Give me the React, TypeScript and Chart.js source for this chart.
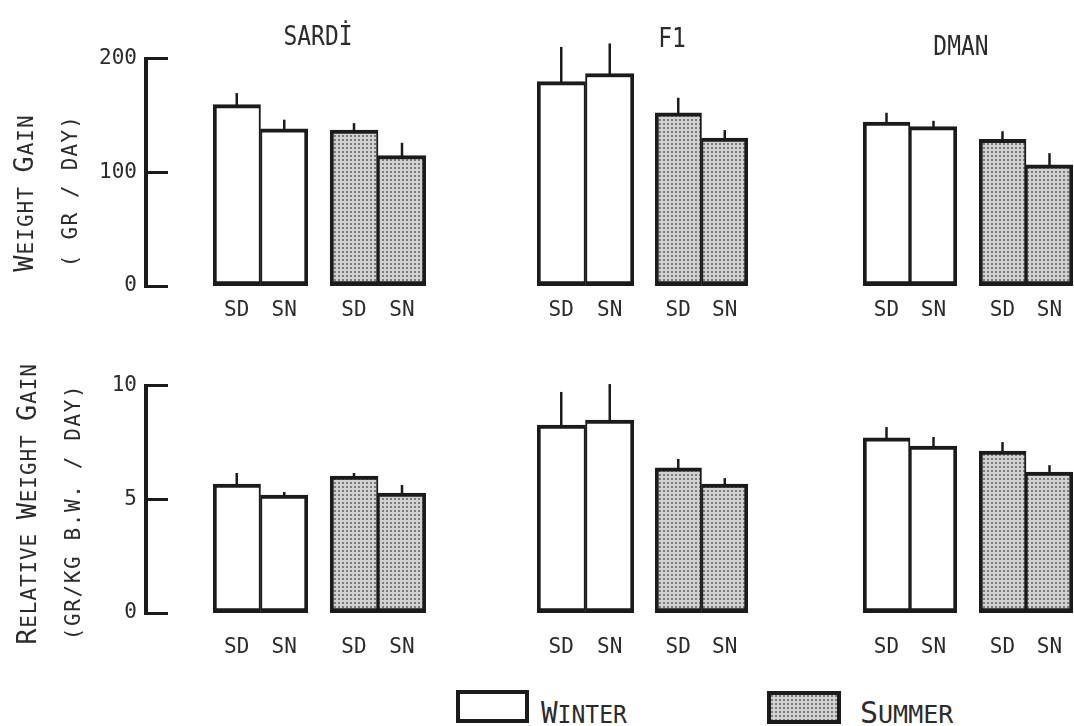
import React, { useEffect, useRef } from "react";
import { Chart, registerables } from "chart.js";

Chart.register(...registerables);

// ---------------- data ----------------
const breeds = ["SARDİ", "F1", "DMAN"];
const seasons = ["WINTER", "SUMMER"];
const groupLabels = ["SD", "SN"];

// order inside each array: Winter SD, Winter SN, Summer SD, Summer SN
const gainSardi = [157, 136, 135, 113];
const gainF1 = [177, 184, 150, 128];
const gainDman = [142, 138, 127, 105];
const gainSardiErr = [10, 8, 6, 11];
const gainF1Err = [30, 26, 13, 7];
const gainDmanErr = [8, 5, 7, 10];

const relSardi = [5.58, 5.1, 5.93, 5.19];
const relF1 = [8.14, 8.35, 6.28, 5.58];
const relDman = [7.58, 7.23, 7.01, 6.1];
const relSardiErr = [0.48, 0.14, 0.13, 0.35];
const relF1Err = [1.43, 1.56, 0.39, 0.26];
const relDmanErr = [0.47, 0.39, 0.39, 0.3];

const gainTicks = [0, 100, 200];
const relTicks = [0, 5, 10];

// ---------------- layout / style ----------------
const INK = "#1b1b1b";
const TEXT = "#2b2b2b";
const MONO = "'DejaVu Sans Mono', 'Liberation Mono', monospace";
const PAD_TOP = 40;
const XAXIS_H = 45;
const AXIS_X = 146;
const rowLayout = [
  { top: 55, bottom: 286, labelLine: 50 },
  { top: 382, bottom: 613, labelLine: 69 },
];
const pairSpans = [
  [[213, 308], [330, 426]],
  [[537, 634], [655, 748]],
  [[863, 957], [979, 1073]],
];
const titleLayout = [
  { cx: 318, top: 22 },
  { cx: 672, top: 24 },
  { cx: 961, top: 32 },
];

const rows = [
  {
    values: [gainSardi, gainF1, gainDman],
    errors: [gainSardiErr, gainF1Err, gainDmanErr],
    ticks: gainTicks,
  },
  {
    values: [relSardi, relF1, relDman],
    errors: [relSardiErr, relF1Err, relDmanErr],
    ticks: relTicks,
  },
];

function makeTile(): HTMLCanvasElement {
  const tile = document.createElement("canvas");
  tile.width = 4;
  tile.height = 4;
  const t = tile.getContext("2d")!;
  t.fillStyle = "#d2d2d2";
  t.fillRect(0, 0, 4, 4);
  t.fillStyle = "#7c7c7c";
  t.fillRect(0, 0, 2, 2);
  return tile;
}

const errorBarPlugin = {
  id: "errorBars",
  afterDatasetsDraw(chart: any) {
    const { ctx } = chart;
    const y = chart.scales.y;
    chart.data.datasets.forEach((ds: any, di: number) => {
      if (!ds.errors) return;
      const meta = chart.getDatasetMeta(di);
      meta.data.forEach((bar: any, i: number) => {
        const v = ds.data[i];
        const e = ds.errors[i];
        const y0 = y.getPixelForValue(v);
        const y1 = y.getPixelForValue(v + e);
        ctx.save();
        ctx.strokeStyle = INK;
        ctx.lineWidth = 2.5;
        ctx.beginPath();
        ctx.moveTo(bar.x, y0 + 1);
        ctx.lineTo(bar.x, y1);
        ctx.stroke();
        ctx.restore();
      });
    });
  },
};

function ChartBox(props: {
  left: number;
  top: number;
  width: number;
  height: number;
  build: (ctx: CanvasRenderingContext2D) => any;
}) {
  const ref = useRef<HTMLCanvasElement>(null);
  useEffect(() => {
    const canvas = ref.current!;
    const chart = new Chart(canvas, props.build(canvas.getContext("2d")!));
    return () => chart.destroy();
  }, []);
  return (
    <div
      style={{
        position: "absolute",
        left: props.left,
        top: props.top,
        width: props.width,
        height: props.height,
      }}
    >
      <canvas ref={ref} />
    </div>
  );
}

function pairConfig(
  ctx: CanvasRenderingContext2D,
  vals: number[],
  errs: number[],
  ticks: number[],
  season: number,
  labelLine: number
) {
  const fill = season === 0 ? "#ffffff" : ctx.createPattern(makeTile(), "repeat");
  return {
    type: "bar",
    data: {
      labels: groupLabels,
      datasets: [
        {
          label: seasons[season],
          data: vals,
          errors: errs,
          backgroundColor: fill,
          borderColor: INK,
          borderWidth: (c: any) =>
            c.dataIndex === 0
              ? { top: 4, left: 4, right: 2, bottom: 5 }
              : { top: 4, left: 2, right: 4, bottom: 5 },
          borderSkipped: false,
          barPercentage: 1,
          categoryPercentage: 1,
        },
      ],
    },
    options: {
      animation: false,
      responsive: true,
      maintainAspectRatio: false,
      events: [],
      layout: { padding: { top: PAD_TOP, left: 0, right: 0, bottom: 0 } },
      plugins: { legend: { display: false }, tooltip: { enabled: false } },
      scales: {
        x: {
          grid: { display: false, drawTicks: false },
          border: { display: false },
          ticks: {
            color: TEXT,
            font: { family: MONO, size: 21, lineHeight: `${labelLine}px` },
            padding: 0,
            maxRotation: 0,
            autoSkip: false,
          },
          afterFit: (s: any) => {
            s.height = XAXIS_H;
          },
        },
        y: { display: false, min: 0, max: ticks[ticks.length - 1] },
      },
    },
    plugins: [errorBarPlugin],
  };
}

function axisConfig(ticks: number[]) {
  return {
    type: "bar",
    data: { labels: [], datasets: [] },
    options: {
      animation: false,
      responsive: true,
      maintainAspectRatio: false,
      events: [],
      layout: { padding: { top: PAD_TOP, left: 0, right: 0, bottom: XAXIS_H } },
      plugins: { legend: { display: false }, tooltip: { enabled: false } },
      scales: {
        x: { display: false },
        y: {
          min: ticks[0],
          max: ticks[ticks.length - 1],
          afterBuildTicks: (s: any) => {
            s.ticks = ticks.map((v) => ({ value: v }));
          },
          afterFit: (s: any) => {
            s.width = AXIS_X;
          },
          grid: {
            drawOnChartArea: false,
            drawTicks: true,
            tickLength: -22,
            lineWidth: 3,
            color: INK,
          },
          border: { display: true, width: 4, color: INK },
          ticks: { color: TEXT, font: { family: MONO, size: 21 }, padding: 31 },
        },
      },
    },
  };
}

type Part = [string, boolean];
function SmallCaps({ parts, big, small, spacing }: { parts: Part[]; big: number; small: number; spacing: number }) {
  return (
    <>
      {parts.map(([t, b], i) => (
        <span key={i} style={{ fontSize: b ? big : small, letterSpacing: spacing }}>
          {t}
        </span>
      ))}
    </>
  );
}

function Rotated({ cx, cy, children }: { cx: number; cy: number; children: any }) {
  return (
    <div
      style={{
        position: "absolute",
        left: cx,
        top: cy,
        transform: "translate(-50%, -50%) rotate(-90deg)",
        whiteSpace: "nowrap",
        lineHeight: 1,
        fontFamily: MONO,
        color: TEXT,
      }}
    >
      {children}
    </div>
  );
}

export default function App() {
  const tileUrl = makeTile().toDataURL();
  const items: any[] = [];
  rows.forEach((row, r) => {
    const L = rowLayout[r];
    const areaH = L.bottom - L.top;
    const canvasTop = L.top - PAD_TOP;
    const canvasH = PAD_TOP + areaH + XAXIS_H;
    items.push(
      <ChartBox
        key={`axis-${r}`}
        left={0}
        top={canvasTop}
        width={185}
        height={canvasH}
        build={() => axisConfig(row.ticks)}
      />
    );
    breeds.forEach((b, bi) => {
      [0, 1].forEach((s) => {
        const [x0, x1] = pairSpans[bi][s];
        const vals = row.values[bi].slice(s * 2, s * 2 + 2);
        const errs = row.errors[bi].slice(s * 2, s * 2 + 2);
        items.push(
          <ChartBox
            key={`c-${r}-${bi}-${s}`}
            left={x0}
            top={canvasTop}
            width={x1 - x0}
            height={canvasH}
            build={(ctx) => pairConfig(ctx, vals, errs, row.ticks, s, L.labelLine)}
          />
        );
      });
    });
  });

  return (
    <div
      style={{
        position: "fixed",
        left: 0,
        top: 0,
        width: 1074,
        height: 726,
        overflow: "hidden",
        background: "#fff",
      }}
    >
      {items}
      {breeds.map((b, i) => (
        <div
          key={b}
          style={{
            position: "absolute",
            left: titleLayout[i].cx,
            top: titleLayout[i].top,
            transform: "translateX(-50%) scaleX(0.85)",
            fontFamily: MONO,
            fontSize: 27,
            lineHeight: 1,
            color: TEXT,
            whiteSpace: "nowrap",
          }}
        >
          {b}
        </div>
      ))}
      <Rotated cx={23} cy={193}>
        <SmallCaps parts={[["W", true], ["EIGHT ", false], ["G", true], ["AIN", false]]} big={27} small={21} spacing={1} />
      </Rotated>
      <Rotated cx={70} cy={191}>
        <SmallCaps parts={[["( GR / DAY)", false]]} big={27} small={21} spacing={1.2} />
      </Rotated>
      <Rotated cx={26} cy={504}>
        <SmallCaps
          parts={[["R", true], ["ELATIVE ", false], ["W", true], ["EIGHT ", false], ["G", true], ["AIN", false]]}
          big={27}
          small={21}
          spacing={0.9}
        />
      </Rotated>
      <Rotated cx={73} cy={512}>
        <SmallCaps parts={[["(GR/KG B.W. / DAY)", false]]} big={27} small={21} spacing={1.6} />
      </Rotated>

      {/* legend */}
      <div
        style={{
          position: "absolute",
          left: 456,
          top: 690,
          width: 73,
          height: 33,
          border: `4px solid ${INK}`,
          boxSizing: "border-box",
          background: "#fff",
        }}
      />
      <div
        style={{
          position: "absolute",
          left: 767,
          top: 691,
          width: 74,
          height: 33,
          border: `4px solid ${INK}`,
          boxSizing: "border-box",
          backgroundImage: `url(${tileUrl})`,
        }}
      />
      <div
        style={{
          position: "absolute",
          left: 541,
          top: 698,
          fontFamily: MONO,
          color: TEXT,
          lineHeight: 1,
          whiteSpace: "nowrap",
          transform: "scaleX(0.92)",
          transformOrigin: "left center",
        }}
      >
        <SmallCaps parts={[["W", true], ["INTER", false]]} big={30} small={25} spacing={0} />
      </div>
      <div
        style={{
          position: "absolute",
          left: 860,
          top: 698,
          fontFamily: MONO,
          color: TEXT,
          lineHeight: 1,
          whiteSpace: "nowrap",
        }}
      >
        <SmallCaps parts={[["S", true], ["UMMER", false]]} big={30} small={25} spacing={0} />
      </div>
    </div>
  );
}
